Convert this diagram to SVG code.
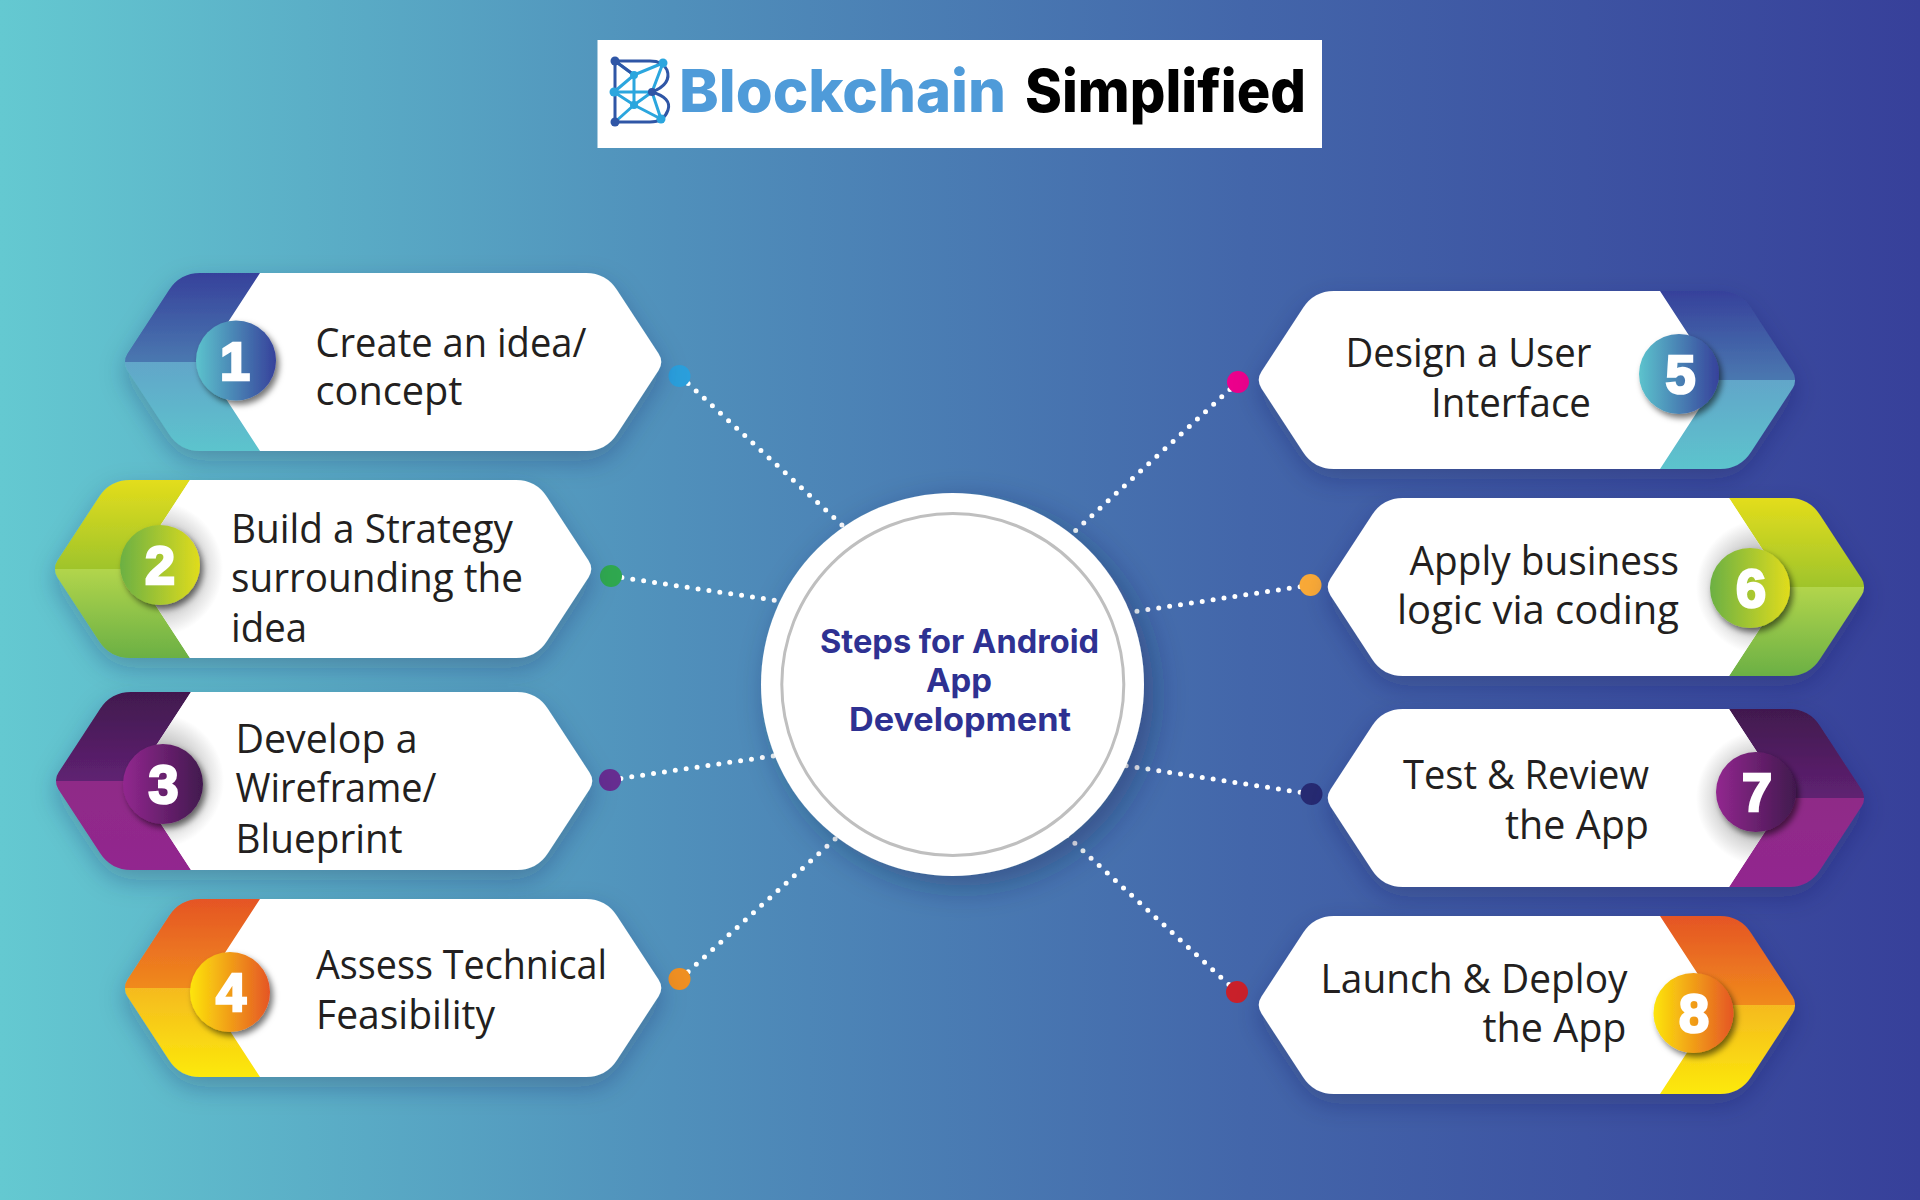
<svg xmlns="http://www.w3.org/2000/svg" width="1920" height="1200" viewBox="0 0 1920 1200">
<style>
.lbl{font-family:"Open Sans","Noto Sans","Liberation Sans",sans-serif;font-size:41px;fill:#231f20}
.num{font-family:"Liberation Sans",Arial,sans-serif;font-weight:700;font-size:54px;fill:#fff;stroke:#fff;stroke-width:2.6px;text-anchor:middle}
.hub{font-family:Inter,"Liberation Sans",sans-serif;font-weight:700;font-size:32px;fill:#2e3192}
.logo{font-family:Inter,"Liberation Sans",sans-serif;font-weight:800;font-size:59px}
.dots{fill:none;stroke:#fff;stroke-width:5;stroke-linecap:round;stroke-dasharray:0 11}
.panel{fill:#fff}
.badge{filter:url(#bs)}
.card{filter:url(#cs)}
.il{stroke:#2ba6de;stroke-width:3;fill:none}
.ol{stroke:#2f56a6;stroke-width:3;fill:none}
</style>
<defs>
<linearGradient id="bg" x1="0" x2="1" y1="0" y2="0"><stop offset="0" stop-color="#64c9d1"/><stop offset=".35" stop-color="#5090bb"/><stop offset=".65" stop-color="#4366aa"/><stop offset="1" stop-color="#37409a"/></linearGradient>
<linearGradient id="t1" x1="0" x2="0" y1="0" y2="1"><stop offset="0" stop-color="#36419b"/><stop offset="1" stop-color="#4a78b0"/></linearGradient>
<linearGradient id="b1" x1="0" x2="0" y1="0" y2="1"><stop offset="0" stop-color="#62a6c9"/><stop offset="1" stop-color="#5cc4cd"/></linearGradient>
<linearGradient id="c1" x1="0" x2="1" y1="0" y2="0"><stop offset="0" stop-color="#5cc3cd"/><stop offset="1" stop-color="#36419b"/></linearGradient>
<linearGradient id="t2" x1="0" x2="0" y1="0" y2="1"><stop offset="0" stop-color="#e3dd1c"/><stop offset="1" stop-color="#9fc42c"/></linearGradient>
<linearGradient id="b2" x1="0" x2="0" y1="0" y2="1"><stop offset="0" stop-color="#b2d54c"/><stop offset="1" stop-color="#6bb044"/></linearGradient>
<linearGradient id="c2" x1="0" x2="1" y1="0" y2="0"><stop offset="0" stop-color="#6bb044"/><stop offset="1" stop-color="#e0dc1d"/></linearGradient>
<linearGradient id="t3" x1="0" x2="0" y1="0" y2="1"><stop offset="0" stop-color="#41194e"/><stop offset="1" stop-color="#5f2172"/></linearGradient>
<linearGradient id="b3" x1="0" x2="0" y1="0" y2="1"><stop offset="0" stop-color="#8f2a87"/><stop offset="1" stop-color="#92278f"/></linearGradient>
<linearGradient id="c3" x1="0" x2="1" y1="0" y2="0"><stop offset="0" stop-color="#92278f"/><stop offset="1" stop-color="#41194e"/></linearGradient>
<linearGradient id="t4" x1="0" x2="0" y1="0" y2="1"><stop offset="0" stop-color="#e55525"/><stop offset="1" stop-color="#f08a1d"/></linearGradient>
<linearGradient id="b4" x1="0" x2="0" y1="0" y2="1"><stop offset="0" stop-color="#f5ba20"/><stop offset="1" stop-color="#fce90a"/></linearGradient>
<linearGradient id="c4" x1="0" x2="1" y1="0" y2="0"><stop offset="0" stop-color="#fde50b"/><stop offset="1" stop-color="#e55525"/></linearGradient>
<radialGradient id="shade" gradientUnits="userSpaceOnUse" cx="100" cy="89" r="68"><stop offset=".55" stop-color="#c4c4c4"/><stop offset="1" stop-color="#fff"/></radialGradient>
<filter id="cs" x="-15%" y="-25%" width="130%" height="160%"><feDropShadow dx="0" dy="10" stdDeviation="13" flood-color="#16264f" flood-opacity=".28"/></filter>
<filter id="bs" x="-30%" y="-30%" width="170%" height="170%"><feDropShadow dx="3" dy="4" stdDeviation="3" flood-color="#000" flood-opacity=".55"/></filter>
<filter id="hs" x="-20%" y="-20%" width="140%" height="140%"><feDropShadow dx="10" dy="10" stdDeviation="16" flood-color="#16264f" flood-opacity=".4"/></filter>
<path id="band-top" d="M0 89Q-.25 84.8 2.5 80.6L44 17Q55 0 75 0H139L81 89Z"/>
<path id="band-bot" d="M0 89Q-.25 93.2 2.5 97.4L44 161Q55 178 75 178H139L81 89Z"/>
<path id="panel" d="M135 0H461Q481 0 492 17L533.5 80.6Q539 89 533.5 97.4L492 161Q481 178 461 178H135L77 89Z"/>
</defs>
<rect width="1920" height="1200" fill="url(#bg)"/>

<g id="logo">
<rect x="597.500" y="40" width="724.500" height="108" fill="#fff"/>
<g id="logo-mark">
<path class="il" d="M615 61L634 75L663 63M634 75L614 92M634 75V105M614 92H652M614 92L634 105L652 92L663 63M634 105L615 122M634 105L661 119M652 92L661 119"/>
<path class="ol" d="M615 61V122M615 61H650Q663 61 667 70Q672 84 652 92Q672 98 668 110Q664 122 650 122H615M615 61L634 75"/>
<g fill="#2f56a6"><circle cx="615" cy="61" r="4.500"/><circle cx="615" cy="122" r="4.500"/><circle cx="652" cy="92" r="4"/></g>
<g fill="#2ba6de"><circle cx="663" cy="63" r="4.500"/><circle cx="634" cy="75" r="4"/><circle cx="614" cy="92" r="4.500"/><circle cx="634" cy="105" r="4"/><circle cx="661" cy="119" r="4.500"/></g>
</g>
<text class="logo" x="679" y="112" textLength="327" lengthAdjust="spacingAndGlyphs" fill="#4f9bd9">Blockchain</text>
<text class="logo" x="1025" y="112" textLength="281" lengthAdjust="spacingAndGlyphs" fill="#000">Simplified</text>
</g>

<g id="connectors">
<path class="dots" d="M680 376L855 537"/>
<path class="dots" d="M611 576L793 603"/>
<path class="dots" d="M610 780L793 753"/>
<path class="dots" d="M680 979L845 830"/>
<path class="dots" d="M1238 382L1062 543"/>
<path class="dots" d="M1311 585L1112 615"/>
<path class="dots" d="M1311 794L1108 763"/>
<path class="dots" d="M1237 992L1056 826"/>
<circle cx="679.500" cy="376" r="11" fill="#2a9fdc"/>
<circle cx="611" cy="576" r="11" fill="#2fa84f"/>
<circle cx="610" cy="780" r="11" fill="#662d91"/>
<circle cx="679.500" cy="979" r="11" fill="#ef8f22"/>
<circle cx="1238" cy="382" r="11" fill="#ec008c"/>
<circle cx="1310.500" cy="585" r="11" fill="#f9a937"/>
<circle cx="1311.500" cy="794" r="11" fill="#262a72"/>
<circle cx="1237" cy="992" r="11" fill="#c9202a"/>
</g>

<g id="hub">
<circle cx="952.500" cy="684.500" r="191.500" fill="#fff" filter="url(#hs)"/>
<circle cx="952.800" cy="684.500" r="171" fill="#fff" stroke="#bfbfbf" stroke-width="3"/>
<text class="hub" x="820" y="653" textLength="279" lengthAdjust="spacingAndGlyphs">Steps for Android</text>
<text class="hub" x="926" y="692" textLength="66" lengthAdjust="spacingAndGlyphs">App</text>
<text class="hub" x="849" y="731" textLength="222" lengthAdjust="spacingAndGlyphs">Development</text>
</g>

<g id="node-1">
<g class="card" transform="translate(125,273)"><use href="#band-top" fill="url(#t1)"/><use href="#band-bot" fill="url(#b1)"/><use href="#panel" class="panel"/></g>
<circle class="badge" cx="236" cy="360.500" r="40" fill="url(#c1)"/>
<text class="num" x="235" y="380">1</text>
<text class="lbl" x="315.500" y="357" textLength="271" lengthAdjust="spacingAndGlyphs">Create an idea/</text>
<text class="lbl" x="315.500" y="405" textLength="147" lengthAdjust="spacingAndGlyphs">concept</text>
</g>

<g id="node-2">
<g class="card" transform="translate(55,480)"><use href="#band-top" fill="url(#t2)"/><use href="#band-bot" fill="url(#b2)"/><use href="#panel" fill="#fff"/><path d="M135 0H190V178H135L77 89Z" fill="url(#shade)"/></g>
<circle class="badge" cx="160" cy="565" r="40" fill="url(#c2)"/>
<text class="num" x="160" y="584">2</text>
<text class="lbl" x="231" y="543" textLength="282" lengthAdjust="spacingAndGlyphs">Build a Strategy</text>
<text class="lbl" x="231" y="592" textLength="292" lengthAdjust="spacingAndGlyphs">surrounding the</text>
<text class="lbl" x="231" y="642" textLength="76" lengthAdjust="spacingAndGlyphs">idea</text>
</g>

<g id="node-3">
<g class="card" transform="translate(56,692)"><use href="#band-top" fill="url(#t3)"/><use href="#band-bot" fill="url(#b3)"/><use href="#panel" fill="#fff"/><path d="M135 0H190V178H135L77 89Z" fill="url(#shade)"/></g>
<circle class="badge" cx="163" cy="784" r="40" fill="url(#c3)"/>
<text class="num" x="163.500" y="803">3</text>
<text class="lbl" x="235.500" y="753" textLength="182" lengthAdjust="spacingAndGlyphs">Develop a</text>
<text class="lbl" x="235.500" y="802" textLength="201" lengthAdjust="spacingAndGlyphs">Wireframe/</text>
<text class="lbl" x="235.500" y="853" textLength="167" lengthAdjust="spacingAndGlyphs">Blueprint</text>
</g>

<g id="node-4">
<g class="card" transform="translate(125,899)"><use href="#band-top" fill="url(#t4)"/><use href="#band-bot" fill="url(#b4)"/><use href="#panel" class="panel"/></g>
<circle class="badge" cx="230" cy="992" r="40" fill="url(#c4)"/>
<text class="num" x="231" y="1011">4</text>
<text class="lbl" x="316" y="979" textLength="291" lengthAdjust="spacingAndGlyphs">Assess Technical</text>
<text class="lbl" x="316" y="1029" textLength="179" lengthAdjust="spacingAndGlyphs">Feasibility</text>
</g>

<g id="node-5">
<g class="card" transform="translate(1795,291) scale(-1,1)"><use href="#band-top" fill="url(#t1)"/><use href="#band-bot" fill="url(#b1)"/><use href="#panel" class="panel"/></g>
<circle class="badge" cx="1679" cy="374" r="40" fill="url(#c1)"/>
<text class="num" x="1680.500" y="393">5</text>
<text class="lbl" x="1345.500" y="367" textLength="246" lengthAdjust="spacingAndGlyphs">Design a User</text>
<text class="lbl" x="1431" y="417" textLength="160" lengthAdjust="spacingAndGlyphs">Interface</text>
</g>

<g id="node-6">
<g class="card" transform="translate(1864,498) scale(-1,1)"><use href="#band-top" fill="url(#t2)"/><use href="#band-bot" fill="url(#b2)"/><use href="#panel" fill="#fff"/><path d="M135 0H190V178H135L77 89Z" fill="url(#shade)"/></g>
<circle class="badge" cx="1750" cy="588" r="40" fill="url(#c2)"/>
<text class="num" x="1751" y="607">6</text>
<text class="lbl" x="1409.500" y="575" textLength="269.500" lengthAdjust="spacingAndGlyphs">Apply business</text>
<text class="lbl" x="1397" y="624" textLength="282" lengthAdjust="spacingAndGlyphs">logic via coding</text>
</g>

<g id="node-7">
<g class="card" transform="translate(1864,709) scale(-1,1)"><use href="#band-top" fill="url(#t3)"/><use href="#band-bot" fill="url(#b3)"/><use href="#panel" fill="#fff"/><path d="M135 0H190V178H135L77 89Z" fill="url(#shade)"/></g>
<circle class="badge" cx="1756" cy="792" r="40" fill="url(#c3)"/>
<text class="num" x="1757" y="811">7</text>
<text class="lbl" x="1403" y="789" textLength="246" lengthAdjust="spacingAndGlyphs">Test &amp; Review</text>
<text class="lbl" x="1505" y="839" textLength="144" lengthAdjust="spacingAndGlyphs">the App</text>
</g>

<g id="node-8">
<g class="card" transform="translate(1795,916) scale(-1,1)"><use href="#band-top" fill="url(#t4)"/><use href="#band-bot" fill="url(#b4)"/><use href="#panel" class="panel"/></g>
<circle class="badge" cx="1693.500" cy="1013" r="40" fill="url(#c4)"/>
<text class="num" x="1694" y="1032">8</text>
<text class="lbl" x="1320.500" y="993" textLength="307" lengthAdjust="spacingAndGlyphs">Launch &amp; Deploy</text>
<text class="lbl" x="1482.500" y="1042" textLength="144" lengthAdjust="spacingAndGlyphs">the App</text>
</g>
</svg>
